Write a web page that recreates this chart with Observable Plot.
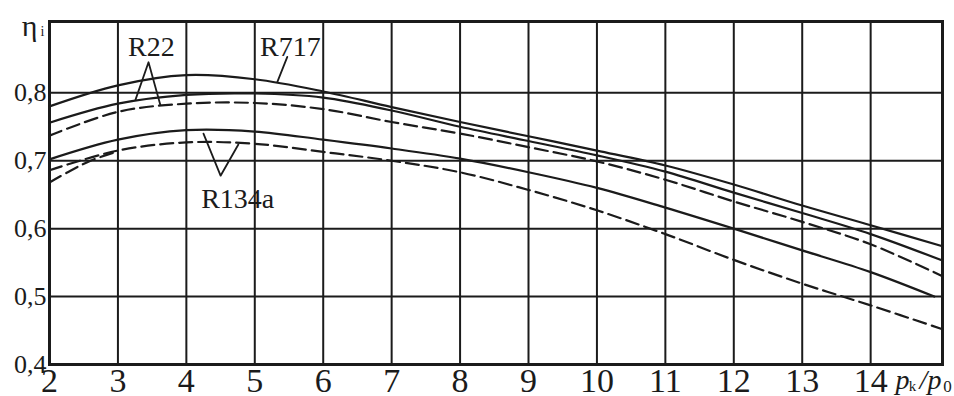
<!DOCTYPE html>
<html>
<head>
<meta charset="utf-8">
<script src="https://cdn.jsdelivr.net/npm/d3@7"></script>
<script src="https://cdn.jsdelivr.net/npm/@observablehq/plot@0.6"></script>
<style>
  html, body { margin: 0; padding: 0; background: #fff; }
  #chart svg { display: block; }
</style>
</head>
<body>
<div id="chart"></div>
<script>
// ---- data ----
const xs = [2, 3, 4, 5, 6, 7, 8, 9, 10, 11, 12, 13, 14, 15.05];
const r717Solid  = [0.780, 0.811, 0.826, 0.820, 0.802, 0.779, 0.757, 0.736, 0.715, 0.693, 0.665, 0.634, 0.605, 0.574];
const r22Solid   = [0.756, 0.784, 0.797, 0.799, 0.793, 0.774, 0.750, 0.729, 0.708, 0.684, 0.653, 0.623, 0.592, 0.553];
const r22Dashed  = [0.737, 0.772, 0.784, 0.785, 0.776, 0.757, 0.740, 0.720, 0.699, 0.672, 0.640, 0.610, 0.577, 0.530];
const xs134Solid = [2, 3, 4, 5, 6, 7, 8, 9, 10, 11, 12, 13, 14, 14.93];
const r134aSolid = [0.702, 0.731, 0.745, 0.743, 0.731, 0.718, 0.703, 0.683, 0.660, 0.631, 0.600, 0.568, 0.536, 0.500];
const r134aDashed= [0.686, 0.715, 0.727, 0.725, 0.713, 0.700, 0.683, 0.657, 0.627, 0.592, 0.554, 0.519, 0.487, 0.452];
const xsLowDash  = [2, 2.3, 2.6, 3];
const lowDashed  = [0.668, 0.685, 0.700, 0.714];

const xTicks = [2, 3, 4, 5, 6, 7, 8, 9, 10, 11, 12, 13, 14];
const yTicks = [0.4, 0.5, 0.6, 0.7, 0.8];

const labels = [
  {text: "R22",   x: 3.49, y: 0.868},
  {text: "R717",  x: 5.52, y: 0.867},
  {text: "R134a", x: 4.75, y: 0.643}
];
const r22Pointer   = [{x: 3.257, y: 0.790}, {x: 3.447, y: 0.845}, {x: 3.62, y: 0.782}];
const r717Pointer  = [{x: 5.475, y: 0.853}, {x: 5.33, y: 0.816}];
const r134aPointer = [{x: 4.25, y: 0.740}, {x: 4.50, y: 0.678}, {x: 4.76, y: 0.724}];

// ---- build series ----
const toRows = (xArr, yArr) => xArr.map((x, i) => ({x, y: yArr[i]}));
const solidSeries = [toRows(xs, r717Solid), toRows(xs, r22Solid), toRows(xs134Solid, r134aSolid)];
const dashedSeries = [toRows(xs, r22Dashed), toRows(xs, r134aDashed), toRows(xsLowDash, lowDashed)];

const ink = "#1b1b1b";
const serif = "'Liberation Serif', 'DejaVu Serif', serif";

const marks = [
  Plot.ruleX(xTicks.slice(1), {stroke: ink, strokeWidth: 2}),
  Plot.ruleY(yTicks.slice(1), {stroke: ink, strokeWidth: 2}),
  Plot.frame({stroke: ink, strokeWidth: 3}),
  Plot.axisY(yTicks, {tickSize: 0, tickPadding: 3, fontSize: 26, label: null,
    tickFormat: d => d.toFixed(1).replace(".", ",")}),
  Plot.axisX(xTicks, {tickSize: 0, tickPadding: 3, fontSize: 34, label: null, tickFormat: d => String(d)}),
];
for (const s of solidSeries) {
  marks.push(Plot.line(s, {x: "x", y: "y", curve: "catmull-rom", stroke: ink, strokeWidth: 2.2}));
}
for (const s of dashedSeries) {
  marks.push(Plot.line(s, {x: "x", y: "y", curve: "catmull-rom", stroke: ink, strokeWidth: 2.2, strokeDasharray: "13,6"}));
}
for (const p of [r22Pointer, r717Pointer, r134aPointer]) {
  marks.push(Plot.line(p, {x: "x", y: "y", stroke: ink, strokeWidth: 1.8}));
}
marks.push(Plot.text(labels, {x: "x", y: "y", text: "text", fontSize: 28, fill: ink,
  textAnchor: "middle", lineAnchor: "middle"}));
// axis titles
marks.push(Plot.text(["η"], {frameAnchor: "top-left", dx: -20, dy: 5, fontSize: 30, fill: ink, textAnchor: "middle", lineAnchor: "middle"}));
marks.push(Plot.text(["i"], {frameAnchor: "top-left", dx: -7, dy: 10, fontSize: 14, fill: ink, textAnchor: "middle", lineAnchor: "middle"}));
marks.push(Plot.text(["p"], {frameAnchor: "bottom-right", dx: -40, dy: 16, fontSize: 28, fontStyle: "italic", fill: ink, textAnchor: "middle", lineAnchor: "middle"}));
marks.push(Plot.text(["k"], {frameAnchor: "bottom-right", dx: -30, dy: 22, fontSize: 15, fill: ink, textAnchor: "middle", lineAnchor: "middle"}));
marks.push(Plot.text(["/p"], {frameAnchor: "bottom-right", dx: -12, dy: 16, fontSize: 28, fontStyle: "italic", fill: ink, textAnchor: "middle", lineAnchor: "middle"}));
marks.push(Plot.text(["0"], {frameAnchor: "bottom-right", dx: 5, dy: 22, fontSize: 17, fill: ink, textAnchor: "middle", lineAnchor: "middle"}));

const chart = Plot.plot({
  width: 954,
  height: 396,
  marginLeft: 49,
  marginRight: 12,
  marginTop: 21,
  marginBottom: 32,
  x: {domain: [2, 15.05]},
  y: {domain: [0.4, 0.905]},
  style: {background: "#fff", color: ink, fontFamily: serif, overflow: "visible"},
  marks
});
document.getElementById("chart").appendChild(chart);
</script>
</body>
</html>
